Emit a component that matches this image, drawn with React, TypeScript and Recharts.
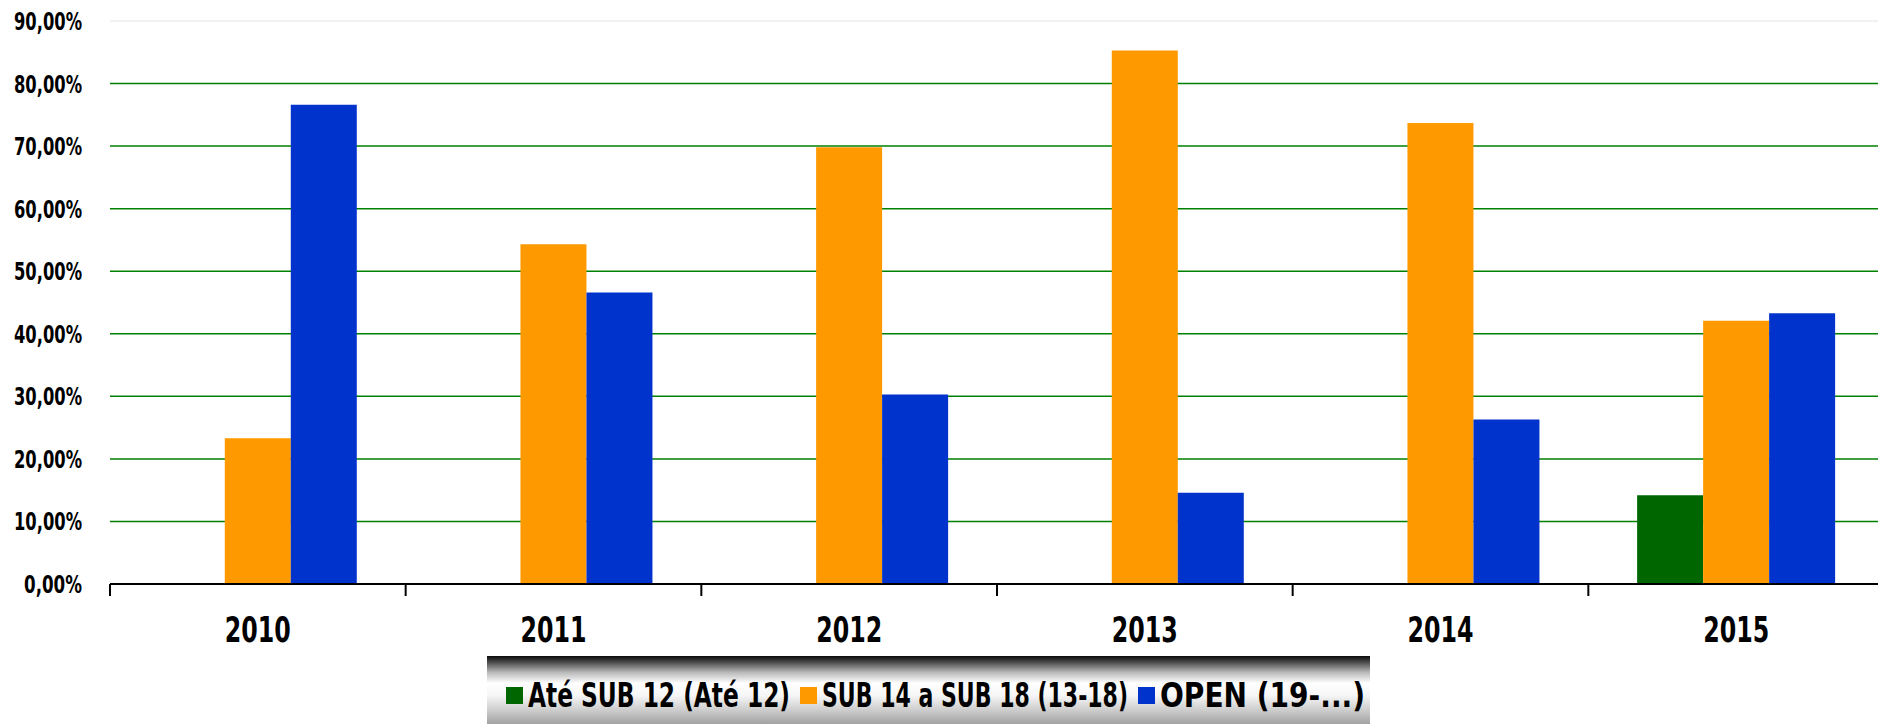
import { BarChart, Bar, XAxis, YAxis, CartesianGrid, Legend, ReferenceLine } from 'recharts';

const YEARS = ['2010', '2011', '2012', '2013', '2014', '2015'];
const SUB12 = [null, null, null, null, null, 14.2];
const SUB14_18 = [23.3, 54.3, 69.8, 85.3, 73.7, 42.1];
const OPEN = [76.6, 46.6, 30.3, 14.6, 26.3, 43.3];
const Y_TICKS = [0, 10, 20, 30, 40, 50, 60, 70, 80, 90];

const SERIES = [
  { key: 'sub12', name: 'Até SUB 12 (Até 12)', color: '#006600' },
  { key: 'sub14', name: 'SUB 14 a SUB 18 (13-18)', color: '#ff9900' },
  { key: 'open', name: 'OPEN (19-...)', color: '#0033cc' },
];

const data = YEARS.map((year, i) => ({ year, sub12: SUB12[i], sub14: SUB14_18[i], open: OPEN[i] }));

const FONT = '"Liberation Sans Narrow", "DejaVu Sans Condensed", "Roboto Condensed", sans-serif';

// condensed look: squeeze text to the widths seen in the picture
const LEGEND_LAYOUT = [
  { box: 19, text: 41, len: 262 },
  { box: 313, text: 335, len: 306 },
  { box: 651, text: 673, len: 205 },
];

function YearTick(props: any) {
  const { x, y, payload, width } = props;
  const half = payload.offset ?? width / 12;
  return (
    <g>
      <line x1={x - half} y1={y} x2={x - half} y2={y + 12} stroke="#000" strokeWidth={2} />
      <text
        x={x - 33}
        y={y + 58}
        textLength={66}
        lengthAdjust="spacingAndGlyphs"
        fontFamily={FONT}
        fontWeight="bold"
        fontSize={35}
        fill="#000"
      >
        {payload.value}
      </text>
    </g>
  );
}

function PctTick(props: any) {
  const { x, y, payload } = props;
  const label = `${payload.value},00%`;
  const len = payload.value === 0 ? 58 : 68;
  return (
    <text
      x={x - len}
      y={y + 9}
      textLength={len}
      lengthAdjust="spacingAndGlyphs"
      fontFamily={FONT}
      fontWeight="bold"
      fontSize={25}
      fill="#000"
    >
      {label}
    </text>
  );
}

function LegendBox() {
  return (
    <div
      style={{
        width: 883,
        height: 68,
        background: 'linear-gradient(to bottom, #0a0a0a 0%, #4a4a4a 9%, #b8b8b8 24%, #ffffff 40%, #f6f6f6 58%, #cccccc 80%, #a2a2a2 100%)',
      }}
    >
      <svg width={883} height={68}>
        {SERIES.map((s, i) => {
          const l = LEGEND_LAYOUT[i];
          return (
            <g key={s.key}>
              <rect x={l.box} y={31} width={17} height={17} fill={s.color} />
              <text
                x={l.text}
                y={51}
                textLength={l.len}
                lengthAdjust="spacingAndGlyphs"
                fontFamily={FONT}
                fontWeight="bold"
                fontSize={33}
                fill="#000"
              >
                {s.name}
              </text>
            </g>
          );
        })}
      </svg>
    </div>
  );
}

export default function App() {
  return (
    <div style={{ position: 'absolute', left: 0, top: 0, width: 1878, height: 724, overflow: 'hidden', background: '#fff' }}>
      <BarChart
        width={1890}
        height={724}
        data={data}
        margin={{ top: 21, right: 6, left: 0, bottom: 0 }}
        barCategoryGap="16.5%"
        barGap={0}
      >
        <CartesianGrid horizontal vertical={false} stroke="#008000" strokeWidth={1.5} />
        <ReferenceLine y={90} stroke="#f2f2f2" strokeWidth={2} />
        <XAxis
          dataKey="year"
          height={140}
          axisLine={{ stroke: '#000', strokeWidth: 2 }}
          tickLine={false}
          tickSize={0}
          tickMargin={0}
          interval={0}
          tick={<YearTick />}
        />
        <YAxis
          width={110}
          domain={[0, 90]}
          ticks={Y_TICKS}
          axisLine={false}
          tickLine={false}
          tickSize={0}
          tickMargin={28}
          tick={<PctTick />}
        />
        <Legend
          verticalAlign="middle"
          layout="horizontal"
          wrapperStyle={{ left: 487, top: 656, width: 883, height: 68 }}
          content={() => <LegendBox />}
        />
        {SERIES.map((s) => (
          <Bar key={s.key} dataKey={s.key} name={s.name} fill={s.color} isAnimationActive={false} />
        ))}
      </BarChart>
    </div>
  );
}
